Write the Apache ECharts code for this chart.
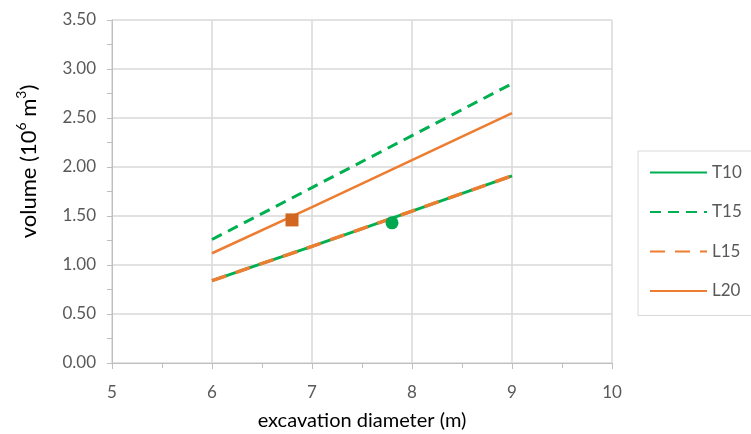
<!DOCTYPE html>
<html>
<head>
<meta charset="utf-8">
<script src="https://cdn.jsdelivr.net/npm/echarts@6/dist/echarts.min.js"></script>
<style>
  html, body { margin: 0; padding: 0; background: #fff; }
  #chart { width: 751px; height: 434px; }
</style>
</head>
<body>
<div id="chart"></div>
<script>
// excavation diameter (m)
const diameters = [6, 7, 8, 9]
// volume (10^6 m3)
const t10 = [0.84, 1.19, 1.55, 1.91]
const t15 = [1.26, 1.79, 2.32, 2.85]
const l15 = [0.84, 1.19, 1.55, 1.91]
const l20 = [1.12, 1.59, 2.07, 2.55]
// single cases
const squarePoint = [6.8, 1.46]
const circlePoint = [7.8, 1.43]

const green = '#00B050'
const orange = '#ED7D31'
const font = 'Lato'

const toPairs = (xs, ys) => xs.map((x, i) => [x, ys[i]])

const chart = echarts.init(document.getElementById('chart'))

const option = {
  animation: false,
  textStyle: { fontFamily: font },
  grid: { left: 112, right: 139, top: 20, bottom: 71, outerBoundsMode: 'none', containLabel: false },
  legend: {
    data: ['T10', 'T15', 'L15', 'L20'],
    orient: 'vertical',
    left: 638,
    top: 151,
    itemWidth: 57,
    itemHeight: 14,
    itemGap: 22.5,
    padding: [13, 14, 16, 11],
    borderColor: '#d9d9d9',
    borderWidth: 1,
    backgroundColor: '#fff',
    itemStyle: { opacity: 0 },
    textStyle: { color: '#595959', fontSize: 17, fontFamily: font },
  },
  xAxis: {
    type: 'value',
    min: 5,
    max: 10,
    interval: 1,
    name: 'excavation diameter (m)',
    nameLocation: 'middle',
    nameGap: 48,
    nameTextStyle: { color: '#000', fontSize: 20, fontFamily: font },
    axisLine: { show: true, lineStyle: { color: '#bfbfbf' } },
    axisTick: { show: true, length: 6, lineStyle: { color: '#bfbfbf' } },
    minorTick: { show: true, splitNumber: 2, length: 5, lineStyle: { color: '#bfbfbf' } },
    axisLabel: { color: '#595959', fontSize: 17, margin: 21 },
    splitLine: { show: true, lineStyle: { color: '#d9d9d9', width: 1.5 } },
  },
  yAxis: {
    type: 'value',
    min: 0,
    max: 3.5,
    interval: 0.5,
    name: '{p|}{t|volume (10}{s|6}{t| m}{s|3}{t|)}',
    nameLocation: 'middle',
    nameGap: 72,
    nameTextStyle: {
      color: '#000',
      fontSize: 22,
      fontFamily: font,
      rich: {
        p: { width: 60, lineHeight: 26 },
        t: { fontSize: 22, color: '#000', fontFamily: font, verticalAlign: 'bottom', lineHeight: 26 },
        s: { fontSize: 14, color: '#000', fontFamily: font, verticalAlign: 'top', lineHeight: 26 },
      },
    },
    axisLine: { show: true, lineStyle: { color: '#bfbfbf' } },
    axisTick: { show: true, length: 5, lineStyle: { color: '#bfbfbf' } },
    minorTick: { show: true, splitNumber: 2, length: 5, lineStyle: { color: '#bfbfbf' } },
    axisLabel: { color: '#595959', fontSize: 17, margin: 16, formatter: v => v.toFixed(2) },
    splitLine: { show: true, lineStyle: { color: '#d9d9d9', width: 1.5 } },
  },
  series: [
    {
      name: 'T10',
      type: 'line',
      data: toPairs(diameters, t10),
      symbol: 'none',
      lineStyle: { color: green, width: 3 },
      itemStyle: { color: green },
      z: 2,
    },
    {
      name: 'T15',
      type: 'line',
      data: toPairs(diameters, t15),
      symbol: 'none',
      lineStyle: { color: green, width: 3, type: [11, 7] },
      itemStyle: { color: green },
      z: 2,
    },
    {
      name: 'L15',
      type: 'line',
      data: toPairs(diameters, l15),
      symbol: 'none',
      lineStyle: { color: orange, width: 3.5, type: [15, 10] },
      itemStyle: { color: orange },
      z: 3,
    },
    {
      name: 'L20',
      type: 'line',
      data: toPairs(diameters, l20),
      symbol: 'none',
      lineStyle: { color: orange, width: 2.5 },
      itemStyle: { color: orange },
      z: 2,
    },
    {
      name: 'L20 case',
      type: 'scatter',
      data: [squarePoint],
      symbol: 'rect',
      symbolSize: 13,
      itemStyle: { color: '#D0661F', opacity: 1 },
      z: 4,
    },
    {
      name: 'T10 case',
      type: 'scatter',
      data: [circlePoint],
      symbol: 'circle',
      symbolSize: 13,
      itemStyle: { color: '#00A84F', opacity: 1 },
      z: 4,
    },
  ],
}

option && chart.setOption(option)
</script>
</body>
</html>
